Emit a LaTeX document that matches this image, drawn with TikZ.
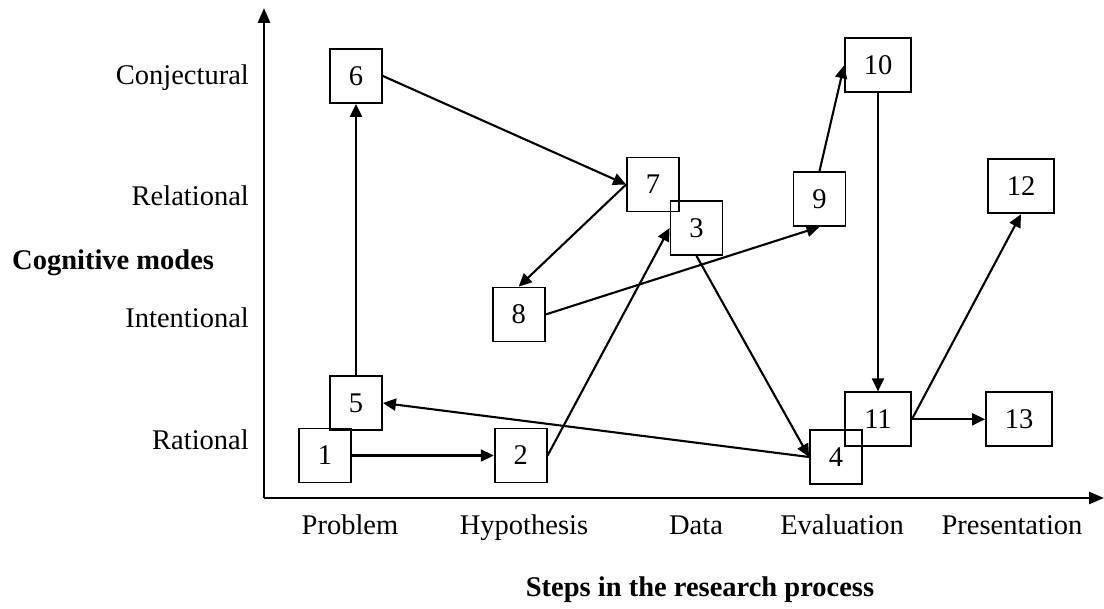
\documentclass[tikz,border=0pt]{standalone}
\usepackage{fontspec}
\setmainfont{Liberation Serif}
\usetikzlibrary{arrows.meta}
\begin{document}
\begin{tikzpicture}[x=1pt,y=-1pt,
  every node/.style={font=\fontsize{28.5}{34}\selectfont},
  numbox/.style={draw,line width=1.8pt,minimum width=52pt,minimum height=54pt,inner sep=0pt},
  widebox/.style={numbox,minimum width=66pt},
  conn/.style={line width=2.1pt,-{Triangle[length=13pt,width=12pt]}},
  axis/.style={line width=2.6pt,-{Triangle[length=15pt,width=12pt]}},
  lbl/.style={inner sep=0pt},
  blbl/.style={inner sep=0pt,font=\fontsize{28.5}{34}\selectfont\bfseries}]
\useasboundingbox (0,0) rectangle (1104,609);
% axes
\coordinate (O) at (264,498);
\coordinate (ytop) at (264,8);
\coordinate (xend) at (1104,498);
\draw[axis] (O) -- (ytop);
\draw[axis] (O) -- (xend);
% y labels
\node[lbl,anchor=base east] (conj) at (249,85) {Conjectural};
\node[lbl,anchor=base east] (rel) at (249,206) {Relational};
\node[blbl,anchor=base west] (cog) at (12,270) {Cognitive modes};
\node[lbl,anchor=base east] (inten) at (249,328) {Intentional};
\node[lbl,anchor=base east] (rat) at (249,450) {Rational};
% x labels
\node[lbl,anchor=base] (prob) at (350,535) {Problem};
\node[lbl,anchor=base] (hyp) at (524,535) {Hypothesis};
\node[lbl,anchor=base] (data) at (696,535) {Data};
\node[lbl,anchor=base] (eval) at (842,535) {Evaluation};
\node[lbl,anchor=base] (pres) at (1012,535) {Presentation};
\node[blbl,anchor=base] (steps) at (700,597) {Steps in the research process};
% boxes
\node[numbox] (n1) at (325,455.5) {1};
\node[numbox] (n2) at (520.7,455.5) {2};
\node[numbox] (n3) at (696.5,228) {3};
\node[numbox] (n4) at (836,457) {4};
\node[numbox] (n5) at (356,403) {5};
\node[numbox] (n6) at (356,76) {6};
\node[numbox] (n7) at (653,184.5) {7};
\node[numbox] (n8) at (518.7,314.5) {8};
\node[numbox] (n9) at (819.5,199) {9};
\node[widebox] (n10) at (878,65.3) {10};
\node[widebox] (n11) at (878,419.3) {11};
\node[widebox] (n12) at (1021,186.3) {12};
\node[widebox] (n13) at (1019,419.3) {13};
% connectors
\draw[conn] (n1.east) -- (n2.west);
\draw[conn] (n2.east) -- (n3.west);
\draw[conn] (n3.south) -- (n4.west);
\draw[conn] (n4.west) -- (n5.east);
\draw[conn] (n5.north) -- (n6.south);
\draw[conn] (n6.east) -- (n7.west);
\draw[conn] (n7.west) -- (n8.north);
\draw[conn] (n8.east) -- (n9.south);
\draw[conn] (n9.north) -- (n10.west);
\draw[conn] (n10.south) -- (n11.north);
\draw[conn] (n11.east) -- (n12.south);
\draw[conn] (n11.east) -- (n13.west);
\end{tikzpicture}
\end{document}
